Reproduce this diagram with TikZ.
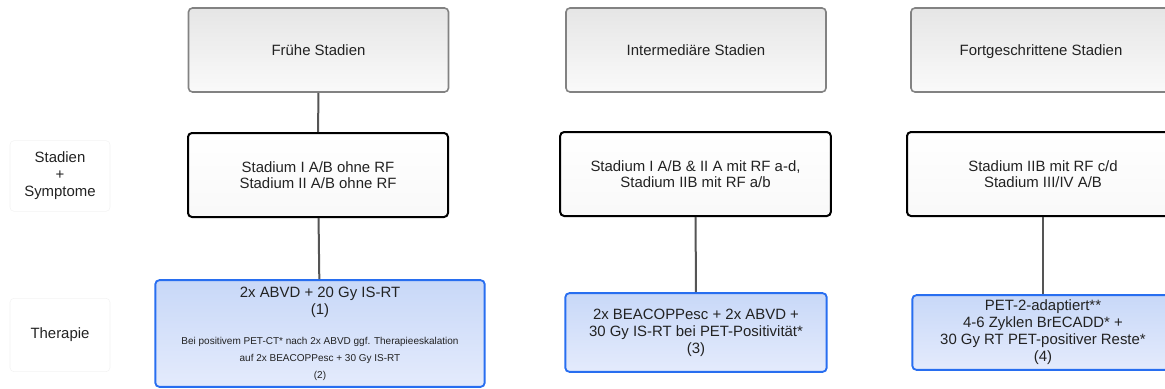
\documentclass[tikz,border=0pt]{standalone}
\usepackage{fontspec}
\setmainfont{Liberation Sans}
\usepackage{tikz}
\usetikzlibrary{arrows.meta}
\definecolor{boxgray}{RGB}{130,130,130}
\definecolor{linegray}{RGB}{85,85,85}
\definecolor{therblue}{RGB}{40,110,240}
\definecolor{therfillA}{RGB}{200,216,248}
\definecolor{therfillB}{RGB}{228,235,252}
\definecolor{labelline}{RGB}{242,242,242}
\definecolor{txtblack}{RGB}{34,34,34}
\tikzstyle{stage} = [rectangle, draw=boxgray, line width=1.2pt, rounded corners=3pt, top color=gray!20, bottom color=gray!4, align=center, text=txtblack, font=\fontsize{11.2}{12.5}\selectfont, minimum width=195pt, minimum height=63pt, text depth=0pt]
\tikzstyle{sympt} = [rectangle, draw=black, line width=1.5pt, rounded corners=3pt, top color=white, bottom color=gray!5, align=center, text=txtblack, font=\fontsize{11.2}{12}\selectfont, minimum height=63pt]
\tikzstyle{ther} = [rectangle, draw=therblue, line width=1.4pt, rounded corners=3pt, top color=therfillA, bottom color=therfillB, align=center, text=txtblack, font=\fontsize{11.2}{12.75}\selectfont]
\tikzstyle{rowlabel} = [rectangle, draw=labelline, rounded corners=3pt, align=center, text=txtblack, font=\fontsize{11.2}{12.75}\selectfont, minimum width=75pt]
\newcommand{\smalltxt}{\fontsize{7.5}{12}\selectfont}
\tikzset{edge/.style = {
    draw=linegray,
    line width=1.5pt,
  }
}

\begin{document}
\begin{tikzpicture}[x=0.75pt, y=-0.75pt]
            \clip (0,0) rectangle (1165,389);
            % row labels
            \node[rowlabel, minimum height=53pt] (lab1) at (60, 176) {Stadien\\+\\Symptome};
            \node[rowlabel, minimum height=55pt] (lab2) at (60, 335) {Therapie};

            % vertices
            \node[stage] (st1) at (318.5, 50) {Frühe Stadien};
            \node[stage] (st2) at (696, 50) {Intermediäre Stadien};
            \node[stage] (st3) at (1041, 50) {Fortgeschrittene Stadien};

            \node[sympt, minimum width=195pt] (sy1) at (318, 175) {Stadium I A/B ohne RF\\Stadium II A/B ohne RF};
            \node[sympt, minimum width=203pt] (sy2) at (695.5, 174) {Stadium I A/B \& II A mit RF a-d,\\Stadium IIB mit RF a/b};
            \node[sympt, minimum width=204pt] (sy3) at (1043, 174) {Stadium IIB mit RF c/d\\Stadium III/IV A/B};

            \node[ther, minimum width=247pt, minimum height=80pt] (th1) at (320, 333.5) {2x ABVD + 20 Gy IS-RT\\(1)\\[10pt]
              \smalltxt Bei positivem PET-CT* nach 2x ABVD ggf. Therapieeskalation\\\smalltxt auf 2x BEACOPPesc + 30 Gy IS-RT\\\smalltxt (2)};
            \node[ther, minimum width=196pt, minimum height=59pt] (th2) at (696, 332.5) {2x BEACOPPesc + 2x ABVD +\\30 Gy IS-RT bei PET-Positivität*\\(3)};
            \node[ther, minimum width=196pt, minimum height=56pt] (th3) at (1043, 332.5) {PET-2-adaptiert**\\4-6 Zyklen BrECADD* +\\30 Gy RT PET-positiver Reste*\\(4)};

            %edges
            \draw[edge] (st1) -- (sy1);
            \draw[edge] (sy1) -- (th1);
            \draw[edge] (sy2) -- (th2);
            \draw[edge] (sy3) -- (th3);
\end{tikzpicture}
\end{document}
